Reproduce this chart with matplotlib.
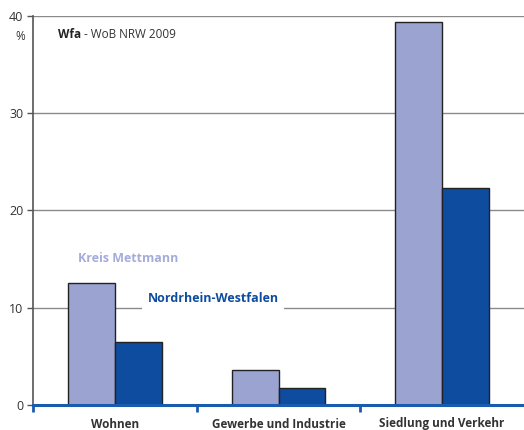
import matplotlib
matplotlib.use("Agg")
import matplotlib.pyplot as plt
import numpy as np

categories = ["Wohnen", "Gewerbe und Industrie", "Siedlung und Verkehr"]
kreis = [12.5, 3.6, 39.4]
nrw = [6.5, 1.75, 22.3]
series_names = ["Kreis Mettmann", "Nordrhein-Westfalen"]
yticks = [0, 10, 20, 30, 40]

plt.rcParams['font.family'] = ['Open Sans', 'DejaVu Sans']

c_light = "#9ba3d1"
c_dark = "#0d4c9f"
c_axis = "#1a5bb0"

fig = plt.figure(figsize=(5.24, 4.3), dpi=100)
ax = fig.add_axes([33/524, 1-405/430, 1-33/524, (405-16)/430])

x = np.arange(len(categories))
w = 0.287
ax.bar(x - w/2, kreis, w, color=c_light, edgecolor="#222222", linewidth=1.0, zorder=3)
ax.bar(x + w/2, nrw, w, color=c_dark, edgecolor="#222222", linewidth=1.0, zorder=3)

ax.set_xlim(-0.5, 2.5)
ax.set_ylim(0, 40)
ax.set_yticks(yticks)
ax.set_yticklabels([str(v) for v in yticks], fontsize=9, color="#333333")
ax.yaxis.grid(True, color="#8a8a8a", linewidth=1.0, zorder=0)
ax.set_axisbelow(True)

for s in ["top", "right"]:
    ax.spines[s].set_visible(False)
ax.spines["left"].set_color("#555555")
ax.spines["left"].set_linewidth(1.2)
ax.spines["bottom"].set_color(c_axis)
ax.spines["bottom"].set_linewidth(2.2)
ax.spines["bottom"].set_zorder(5)

ax.tick_params(axis="y", length=4, width=1, color="#555555", pad=3)
ax.set_xticks([-0.5, 0.5, 1.5])
ax.set_xticklabels([])
ax.tick_params(axis="x", which="major", length=5, width=2, color=c_axis, direction="out")
ax.set_xticks(x, minor=True)
ax.set_xticklabels(categories, minor=True, fontsize=8.5, fontweight="bold", color="#333333")
ax.tick_params(axis="x", which="minor", length=0, pad=9)

ax.text(-0.226, 15.1, series_names[0], fontsize=9, fontweight="bold", color="#a5acd9",
        va="center", ha="left", zorder=6)
ax.text(0.201, 11.0, series_names[1], fontsize=9, fontweight="bold", color=c_dark,
        va="center", ha="left", zorder=6,
        bbox=dict(facecolor="white", edgecolor="none", pad=4))

t1 = fig.text(58/524, 1-35/430, "Wfa", fontsize=8.5, fontweight="bold", color="#222222", va="center")
ax.annotate(" - WoB NRW 2009", xy=(1, 0.5), xycoords=t1, va="center", ha="left",
            fontsize=8.5, color="#333333", annotation_clip=False)
fig.text(15/524, 1-36/430, "%", fontsize=8.5, color="#333333", va="center")

fig.savefig("out.png", dpi=100)
